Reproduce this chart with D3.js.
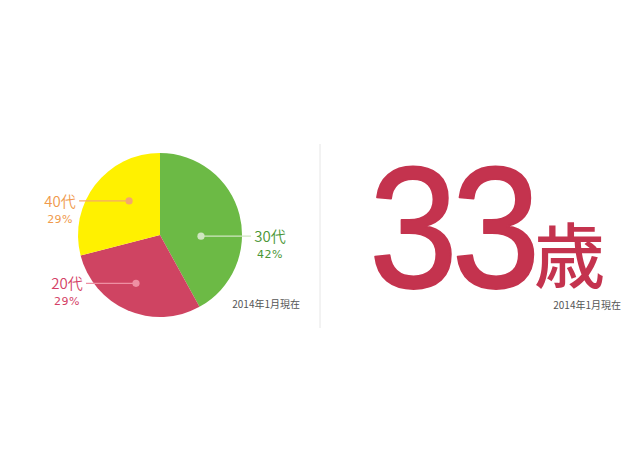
<!DOCTYPE html>
<html>
<head>
<meta charset="utf-8">
<script src="https://cdn.jsdelivr.net/npm/d3@7"></script>
<style>
  body { margin: 0; background: #fff; }
  svg { display: block; }
</style>
</head>
<body>
<svg id="chart" width="640" height="472"></svg>
<script>
// data
var ageGroups = ["30代", "20代", "40代"];
var shares = [42, 29, 29];
var sliceColors = ["#6cba45", "#cf4462", "#fff100"];
var labelColors = ["#4a9636", "#d43f66", "#f09a4c"];
var dotColors = ["#cfe6c0", "#ee8fa3", "#f4a86c"];
var averageAge = "33";
var ageUnit = "歳";
var asOf = "2014年1月現在";

var svg = d3.select("#chart");
var width = 640, height = 472;

var cx = 160, cy = 235, radius = 82;

var pieData = d3.range(0, ageGroups.length).map(function (i) {
    return { name: ageGroups[i], value: shares[i], i: i };
});

var pie = d3.pie()
    .sort(null)
    .value(function (d) { return d.value; });

var arc = d3.arc()
    .innerRadius(0)
    .outerRadius(radius);

var g = svg.append("g")
    .attr("transform", "translate(" + cx + "," + cy + ")");

var arcs = pie(pieData);

g.selectAll(".slice")
    .data(arcs)
    .enter()
    .append("path")
    .attr("class", "slice")
    .attr("d", arc)
    .style("fill", function (d) { return sliceColors[d.data.i]; });

// where the dot sits inside each slice (angle shift in deg, distance from centre)
var dotPlace = [[16, 41], [3, 54], [10, 46]];
var lineLen = 50;

function dotXY(d) {
    var mid = (d.startAngle + d.endAngle) / 2 + dotPlace[d.data.i][0] * Math.PI / 180;
    var rr = dotPlace[d.data.i][1];
    return [rr * Math.sin(mid), -rr * Math.cos(mid)];
}

var labels = g.selectAll(".lbl")
    .data(arcs)
    .enter()
    .append("g")
    .attr("class", "lbl");

labels.each(function (d) {
    var p = dotXY(d);
    var side = p[0] > 0 ? 1 : -1;
    var endX = p[0] + side * lineLen;
    var el = d3.select(this);
    var c = labelColors[d.data.i];

    el.append("line")
        .attr("x1", p[0]).attr("y1", p[1])
        .attr("x2", endX).attr("y2", p[1])
        .style("stroke", dotColors[d.data.i])
        .style("stroke-width", 1.3);

    el.append("circle")
        .attr("cx", p[0]).attr("cy", p[1])
        .attr("r", 3.6)
        .style("fill", dotColors[d.data.i]);

    var tx = endX + side * 19;
    el.append("text")
        .attr("x", tx).attr("y", p[1] + 6)
        .attr("text-anchor", "middle")
        .style("font-family", "'Noto Sans CJK JP', 'Noto Sans', sans-serif")
        .style("font-weight", 350)
        .style("font-size", "15px")
        .style("fill", c)
        .text(d.data.name);

    el.append("text")
        .attr("x", tx).attr("y", p[1] + 22)
        .attr("text-anchor", "middle")
        .style("font-family", "'DejaVu Sans', sans-serif")
        .style("font-size", "11px")
        .style("letter-spacing", "0.5px")
        .style("fill", c)
        .text(d.data.value + "%");
});

function noteText(x, y) {
    svg.append("text")
        .attr("x", x).attr("y", y)
        .attr("text-anchor", "end")
        .style("font-family", "'Noto Sans CJK JP', sans-serif")
        .style("font-size", "10px")
        .style("fill", "#555")
        .text(asOf);
}
noteText(300, 308);
noteText(621, 309);

// divider
svg.append("line")
    .attr("x1", 320).attr("y1", 144)
    .attr("x2", 320).attr("y2", 328)
    .style("stroke", "#e6e6e6")
    .style("stroke-width", 1);

// big number (thin stroke thickens the regular weight a little)
svg.append("g")
    .attr("transform", "translate(369,287) scale(0.93,1)")
    .append("text")
    .attr("x", 0).attr("y", 0)
    .style("font-family", "'Liberation Sans', Arial, sans-serif")
    .style("font-size", "172px")
    .style("letter-spacing", "-7px")
    .style("fill", "#c4334e")
    .style("stroke", "#c4334e")
    .style("stroke-width", 1.8)
    .style("stroke-linejoin", "round")
    .text(averageAge);

svg.append("text")
    .attr("x", 534).attr("y", 282)
    .style("font-family", "'Noto Sans CJK JP', sans-serif")
    .style("font-weight", 500)
    .style("font-size", "71px")
    .style("fill", "#c4334e")
    .text(ageUnit);
</script>
</body>
</html>
